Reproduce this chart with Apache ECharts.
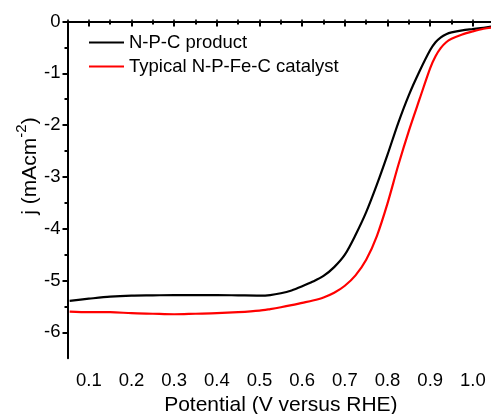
<!DOCTYPE html>
<html>
<head>
<meta charset="utf-8">
<script src="https://cdn.jsdelivr.net/npm/echarts@6/dist/echarts.min.js"></script>
<style>
  html, body { margin: 0; padding: 0; background: #fff; }
  #chart { width: 491px; height: 414px; }
</style>
</head>
<body>
<div id="chart"></div>
<script>
// Linear sweep voltammetry (ORR polarisation curves)
const seriesNames = ['N-P-C product', 'Typical N-P-Fe-C catalyst'];

// Potential (V vs RHE) sample points shared by both curves
const potential = [0.055, 0.10, 0.15, 0.20, 0.25, 0.30, 0.35, 0.40, 0.45, 0.50,
  0.525, 0.55, 0.575, 0.60, 0.625, 0.65, 0.675, 0.70, 0.725, 0.75,
  0.775, 0.80, 0.825, 0.85, 0.875, 0.90, 0.9125, 0.925, 0.9375, 0.95, 0.975, 1.00, 1.025, 1.05];

// Current density j (mA cm^-2)
const currentNPC = [-5.39, -5.35, -5.31, -5.29, -5.285, -5.28, -5.28, -5.28, -5.285, -5.29,
  -5.28, -5.245, -5.19, -5.11, -5.02, -4.91, -4.74, -4.50, -4.12, -3.68,
  -3.15, -2.57, -1.96, -1.42, -0.96, -0.55, -0.40, -0.305, -0.245, -0.21, -0.17, -0.145, -0.12, -0.09];

const currentFe = [-5.60, -5.61, -5.61, -5.63, -5.64, -5.65, -5.64, -5.63, -5.61, -5.58,
  -5.55, -5.515, -5.475, -5.43, -5.385, -5.325, -5.235, -5.10, -4.90, -4.60,
  -4.14, -3.51, -2.78, -2.11, -1.50, -0.90, -0.67, -0.51, -0.40, -0.335, -0.25, -0.19, -0.14, -0.11];

// Tick positions
const xMajorTicks = [0.1, 0.2, 0.3, 0.4, 0.5, 0.6, 0.7, 0.8, 0.9, 1.0];
const xMinorTicks = [0.15, 0.25, 0.35, 0.45, 0.55, 0.65, 0.75, 0.85, 0.95];
const yMajorTicks = [-6, -5, -4, -3, -2, -1, 0];
const yMinorTicks = [-5.5, -4.5, -3.5, -2.5, -1.5, -0.5];

const FONT = "'Liberation Sans', Arial, sans-serif";
const INK = '#000';
const X_MIN = 0.05, X_MAX = 1.05, Y_MIN = -6.5, Y_MAX = 0;
const gridBox = { left: 67.5, top: 21.5, width: 426.7, height: 336.8, containLabel: false, outerBoundsMode: 'none' };

const toPairs = (xs, ys) => xs.map((x, i) => [x, ys[i]]);

const chart = echarts.init(document.getElementById('chart'), null, { renderer: 'canvas' });

chart.setOption({
  animation: false,
  backgroundColor: '#fff',
  textStyle: { fontFamily: FONT, color: INK },
  grid: [
    Object.assign({}, gridBox),
    Object.assign({}, gridBox)
  ],
  legend: {
    orient: 'vertical',
    left: 84,
    top: 28,
    itemWidth: 35,
    itemHeight: 2,
    itemGap: 5,
    icon: 'rect',
    data: seriesNames,
    textStyle: { fontFamily: FONT, fontSize: 18.5, color: INK }
  },
  xAxis: [
    {
      type: 'value', gridIndex: 0, position: 'bottom',
      min: X_MIN, max: X_MAX, interval: 0.05,
      axisLine: { show: true, lineStyle: { color: INK, width: 2 } },
      axisTick: { show: true, customValues: xMajorTicks, length: 5, lineStyle: { color: INK, width: 2 } },
      axisLabel: {
        customValues: xMajorTicks, margin: 13,
        fontFamily: FONT, fontSize: 18.5, color: INK,
        formatter: v => v.toFixed(1)
      },
      splitLine: { show: false },
      name: 'Potential (V versus RHE)', nameLocation: 'middle', nameGap: 31,
      nameTextStyle: { fontFamily: FONT, fontSize: 21, color: INK }
    },
    {
      type: 'value', gridIndex: 0, position: 'top',
      min: X_MIN, max: X_MAX, interval: 0.05,
      axisLine: { show: true, lineStyle: { color: INK, width: 2 } },
      axisTick: { show: true, length: 2, lineStyle: { color: INK, width: 1.5 } },
      axisLabel: { show: false },
      splitLine: { show: false }
    },
    {
      type: 'value', gridIndex: 1, position: 'bottom',
      min: X_MIN, max: X_MAX,
      axisLine: { show: false },
      axisTick: { show: true, customValues: xMinorTicks, length: 3, lineStyle: { color: INK, width: 2 } },
      axisLabel: { show: false },
      splitLine: { show: false }
    }
  ],
  yAxis: [
    {
      type: 'value', gridIndex: 0, position: 'left',
      min: Y_MIN, max: Y_MAX, interval: 0.5,
      axisLine: { show: true, lineStyle: { color: INK, width: 2 } },
      axisTick: { show: true, customValues: yMajorTicks, length: 5, lineStyle: { color: INK, width: 2 } },
      axisLabel: {
        customValues: yMajorTicks, margin: 7,
        fontFamily: FONT, fontSize: 18.5, color: INK,
        formatter: v => String(v)
      },
      splitLine: { show: false }
    },
    {
      type: 'value', gridIndex: 1, position: 'left',
      min: Y_MIN, max: Y_MAX,
      axisLine: { show: false },
      axisTick: { show: true, customValues: yMinorTicks, length: 3, lineStyle: { color: INK, width: 2 } },
      axisLabel: { show: false },
      splitLine: { show: false }
    }
  ],
  graphic: [
    {
      type: 'text',
      x: 30, y: 166,
      rotation: Math.PI / 2,
      style: {
        text: '{a|j (mAcm}{b|-2}{a|)}',
        align: 'center',
        verticalAlign: 'middle',
        fill: INK,
        rich: {
          a: { fontFamily: FONT, fontSize: 21, lineHeight: 32, fill: INK },
          b: { fontFamily: FONT, fontSize: 15, lineHeight: 15, verticalAlign: 'top', fill: INK }
        }
      }
    }
  ],
  series: [
    {
      name: seriesNames[0], type: 'line', xAxisIndex: 0, yAxisIndex: 0,
      data: toPairs(potential, currentNPC),
      smooth: 0.3, showSymbol: false,
      lineStyle: { color: '#000000', width: 2.2 },
      itemStyle: { color: '#000000' }
    },
    {
      name: seriesNames[1], type: 'line', xAxisIndex: 0, yAxisIndex: 0,
      data: toPairs(potential, currentFe),
      smooth: 0.3, showSymbol: false,
      lineStyle: { color: '#ff0000', width: 2.2 },
      itemStyle: { color: '#ff0000' }
    }
  ]
});
</script>
</body>
</html>
